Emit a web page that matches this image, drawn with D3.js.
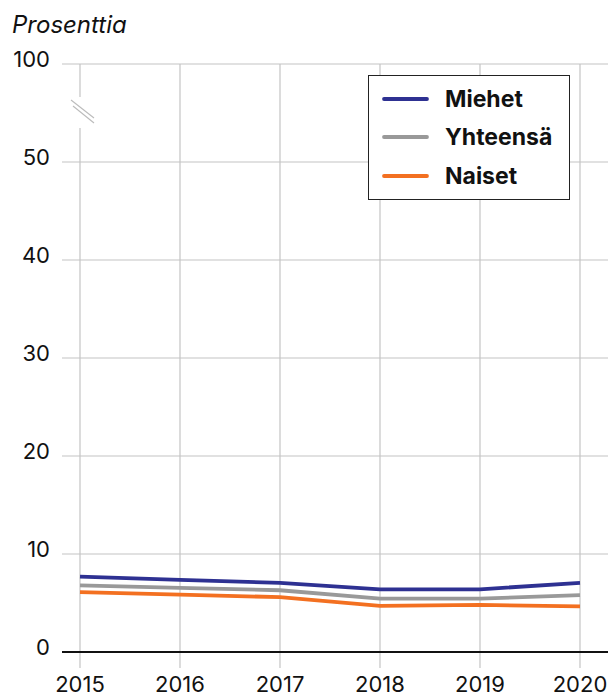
<!DOCTYPE html>
<html><head><meta charset="utf-8">
<script src="https://cdn.jsdelivr.net/npm/d3@7"></script>
<style>html,body{margin:0;padding:0;background:#fff}svg{display:block}</style>
</head><body>
<svg id="c" width="610" height="697"></svg>
<script>
const years = [2015, 2016, 2017, 2018, 2019, 2020];
const miehet = [7.7, 7.35, 7.05, 6.4, 6.4, 7.05];
const yhteensa = [6.8, 6.55, 6.3, 5.45, 5.45, 5.8];
const naiset = [6.1, 5.85, 5.6, 4.7, 4.8, 4.65];
const yTickValues = [0, 10, 20, 30, 40, 50, 60];
const yTickLabels = ["0", "10", "20", "30", "40", "50", "100"];
const seriesNames = ["Miehet", "Yhteensä", "Naiset"];
const seriesColors = ["#2e3192", "#999999", "#f37021"];

const svg = d3.select("#c");
const font = "Inter, 'Noto Sans', sans-serif";
const x = d3.scaleLinear().domain([2015, 2020]).range([80, 580]);
const y = d3.scaleLinear().domain([0, 60]).range([652, 64]);

// horizontal gridlines
svg.append("g").selectAll("line").data(yTickValues.filter(d => d > 0)).join("line")
  .attr("x1", 62).attr("x2", 608)
  .attr("y1", d => y(d)).attr("y2", d => y(d))
  .attr("stroke", "#c4c4c4").attr("stroke-width", 1.2);

// vertical gridlines
svg.append("g").selectAll("line").data(years).join("line")
  .attr("x1", d => x(d)).attr("x2", d => x(d))
  .attr("y1", y(60)).attr("y2", 668)
  .attr("stroke", "#c4c4c4").attr("stroke-width", 1.2);

// break gap on first vertical line
svg.append("rect").attr("x", x(2015) - 3).attr("y", 97).attr("width", 6).attr("height", 31).attr("fill", "#fff");
svg.append("line").attr("x1", 71).attr("y1", 100).attr("x2", 94).attr("y2", 118).attr("stroke", "#bbb").attr("stroke-width", 1.1);
svg.append("line").attr("x1", 73).attr("y1", 106).attr("x2", 94).attr("y2", 123).attr("stroke", "#bbb").attr("stroke-width", 1.1);

// y labels
svg.append("g").selectAll("text").data(yTickValues).join("text")
  .attr("x", 50).attr("y", d => y(d) + 3)
  .attr("text-anchor", "end")
  .attr("font-family", font).attr("font-size", 22).attr("fill", "#111")
  .text((d, i) => yTickLabels[i]);

// x labels
svg.append("g").selectAll("text").data(years).join("text")
  .attr("x", d => x(d)).attr("y", 692)
  .attr("text-anchor", "middle")
  .attr("font-family", font).attr("font-size", 22).attr("fill", "#111")
  .text(d => d);

// axis title
svg.append("text").attr("x", 12).attr("y", 33)
  .attr("font-family", font).attr("font-size", 24).attr("font-style", "italic").attr("fill", "#111")
  .text("Prosenttia");

// lines
const data = [miehet, yhteensa, naiset];
const line = d3.line().x((d, i) => x(years[i])).y(d => y(d));
svg.append("g").selectAll("path").data([2, 1, 0]).join("path")
  .attr("d", k => line(data[k]))
  .attr("fill", "none").attr("stroke", k => seriesColors[k]).attr("stroke-width", 3.8);

// baseline
svg.append("line").attr("x1", 62).attr("x2", 608).attr("y1", y(0)).attr("y2", y(0))
  .attr("stroke", "#111").attr("stroke-width", 2.2);

// legend
const lg = svg.append("g");
lg.append("rect").attr("x", 368.5).attr("y", 75.5).attr("width", 201).attr("height", 124)
  .attr("fill", "#fff").attr("stroke", "#222").attr("stroke-width", 1);
const rowY = [99, 137, 176];
seriesNames.forEach((n, i) => {
  lg.append("line").attr("x1", 384).attr("x2", 427).attr("y1", rowY[i]).attr("y2", rowY[i])
    .attr("stroke", seriesColors[i]).attr("stroke-width", 3.8).attr("stroke-linecap", "round");
  lg.append("text").attr("x", 445).attr("y", rowY[i]).attr("dy", "0.35em")
    .attr("font-family", font).attr("font-size", 23).attr("font-weight", "bold").attr("fill", "#111")
    .text(n);
});
</script>
</body></html>
